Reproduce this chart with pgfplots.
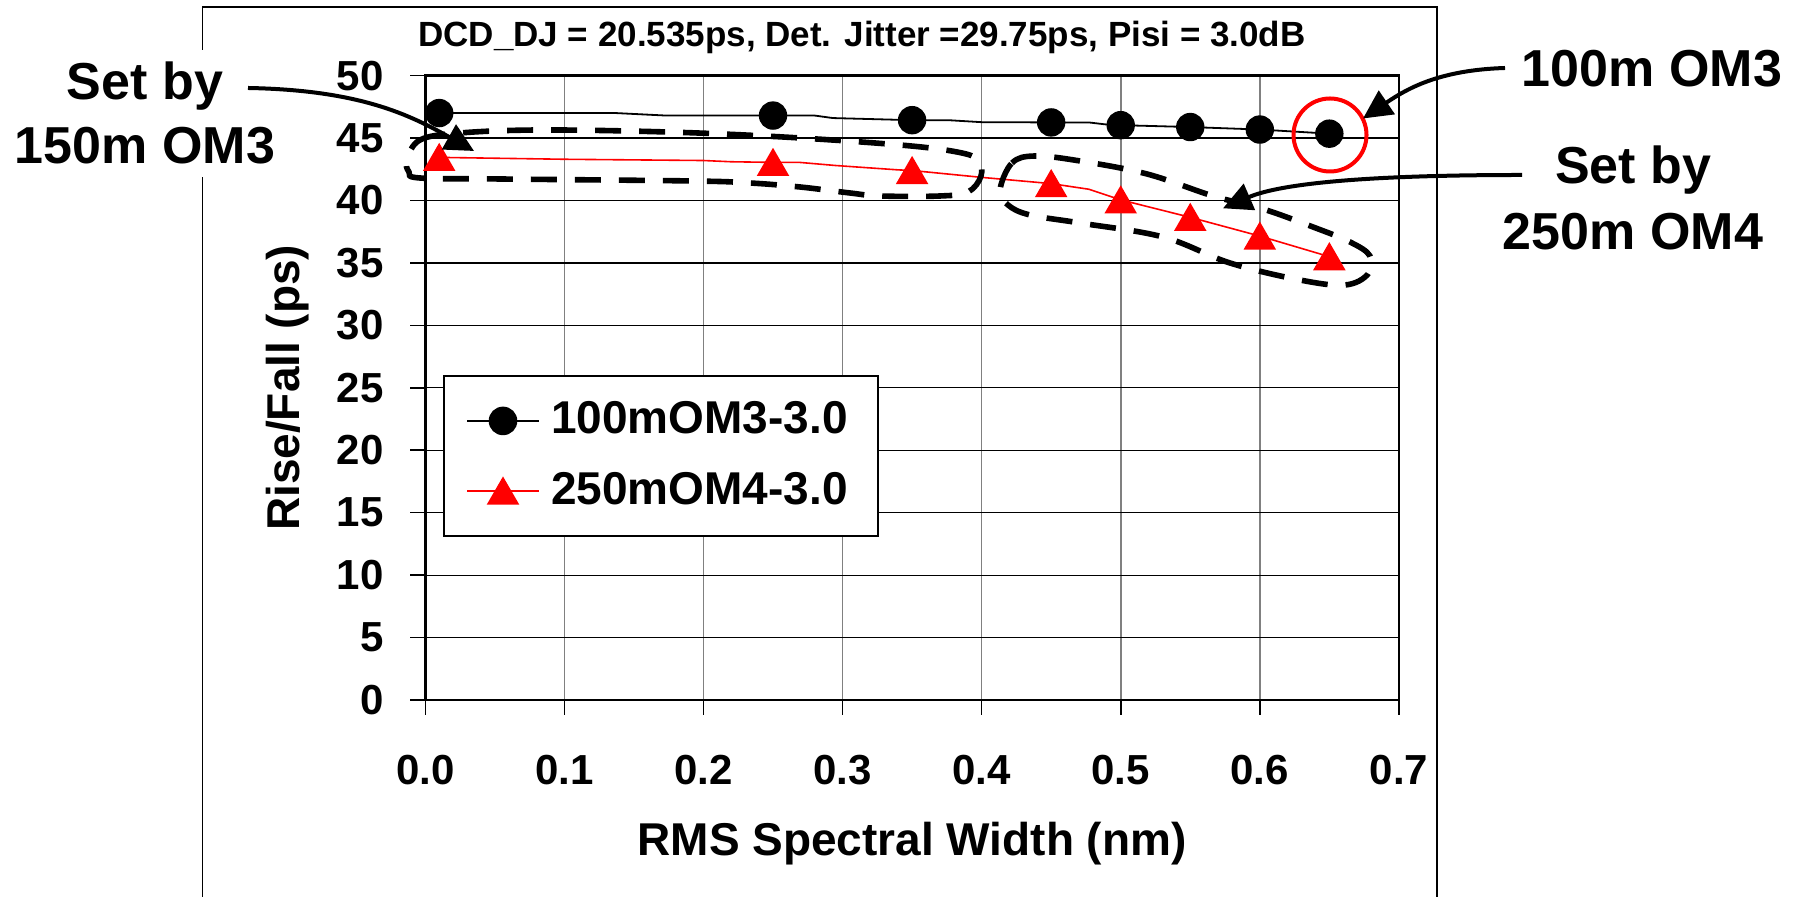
\documentclass[border=0pt]{standalone}
\usepackage{fontspec}
\setmainfont{Liberation Sans}
\usepackage{pgfplots}
\pgfplotsset{compat=1.18}
\usetikzlibrary{arrows.meta}

\begin{document}
\begin{tikzpicture}
\begin{axis}[
    at={(0,0)}, anchor=south west,
    scale only axis, width=243.4pt, height=156.1pt,
    xmin=0, xmax=0.7, ymin=0, ymax=50,
    xtick={0,0.1,0.2,0.3,0.4,0.5,0.6,0.7},
    ytick={0,5,10,15,20,25,30,35,40,45,50},
    /pgf/number format/assume math mode=true,
    tick label style={font=\fontsize{10.5}{12.6}\selectfont\bfseries},
    xticklabel style={/pgf/number format/fixed, /pgf/number format/fixed zerofill,
        /pgf/number format/precision=1, yshift=-6.5pt},
    yticklabel style={xshift=-3.2pt},
    tick pos=left, tick align=outside, major tick length=3.75pt,
    tick style={black, line width=0.4pt},
    grid=major,
    x grid style={gray, line width=0.4pt},
    y grid style={black, line width=0.3pt},
    axis line style={black, line width=0.6pt},
    xlabel={RMS Spectral Width (nm)},
    ylabel={Rise/Fall (ps)},
    label style={font=\fontsize{11.5}{13.8}\selectfont\bfseries},
    xlabel style={at={(axis description cs:0.5,-0.2306)}, anchor=center},
    ylabel style={at={(axis description cs:-0.141,0.5)}, anchor=center},
    clip=false,
    legend style={at={(0.0185,0.5204)}, anchor=north west,
        draw=black, line width=0.4pt, fill=white,
        font=\fontsize{11.5}{13.8}\selectfont\bfseries,
        inner xsep=5.5pt, inner ysep=4.5pt, row sep=4pt,
        /tikz/every odd column/.append style={column sep=0.8pt}},
    legend cell align=left,
    legend image code/.code={\draw[mark repeat=2, mark phase=2, #1]
        plot coordinates {(0pt,0pt) (9pt,0pt) (18pt,0pt)};},
]
% 100m OM3 curve (line) and its markers
\addplot[black, line width=0.45pt, forget plot] coordinates {
    (0.01,47.0) (0.137,47.0) (0.173,46.8) (0.25,46.8) (0.28,46.8) (0.293,46.6)
    (0.35,46.43) (0.376,46.43) (0.4,46.27) (0.45,46.25) (0.477,46.25) (0.49,46.08)
    (0.5,46.03) (0.55,45.88) (0.6,45.68) (0.65,45.35)
};
\addplot[only marks, mark=*, mark size=3.35pt, black, forget plot] coordinates {
    (0.01,47.0) (0.25,46.8) (0.35,46.43) (0.45,46.25) (0.5,46.03) (0.55,45.88)
    (0.6,45.68) (0.65,45.35)
};
% 250m OM4 curve (line) and its markers
\addplot[red, line width=0.4pt, forget plot] coordinates {
    (0.01,43.45) (0.1,43.3) (0.2,43.2) (0.22,43.1) (0.25,43.05) (0.269,43.05)
    (0.295,42.8) (0.34,42.45) (0.35,42.4) (0.4,41.85) (0.45,41.35) (0.477,40.9)
    (0.5,40.05) (0.55,38.65) (0.6,37.15) (0.65,35.5)
};
\addplot[only marks, mark=triangle*, mark size=4.3pt, red,
    mark options={fill=red, yshift=-1.05pt}, forget plot] coordinates {
    (0.01,43.45) (0.25,43.05) (0.35,42.4) (0.45,41.35) (0.5,40.05) (0.55,38.65)
    (0.6,37.15) (0.65,35.5)
};
\addlegendimage{black, line width=0.45pt, mark=*, mark size=3.35pt}
\addlegendentry{100mOM3-3.0}
\addlegendimage{red, line width=0.4pt, mark=triangle*, mark size=4.3pt,
    mark options={fill=red, yshift=-1.05pt}}
\addlegendentry{250mOM4-3.0}
\end{axis}

% annotations, in pixel units of the reference (origin at the axis corner)
\begin{scope}[x=0.25pt, y=-0.25pt]
\begin{scope}[shift={(-425.3,-700)}]
\draw[line width=0.4pt] (202.7,897) -- (202.7,7) -- (1437,7) -- (1437,897);

\node[anchor=base, font=\fontsize{8.75}{10.5}\selectfont\bfseries] at (862,47)
    {DCD\_DJ = 20.535ps, Det. Jitter =29.75ps, Pisi = 3.0dB};

% dashed outlines
\draw[line width=1.4pt, dash pattern=on 6.5pt off 4.5pt]
    plot[smooth cycle, tension=0.6] coordinates {
    (407,160) (420,140) (460,133) (540,130) (667,132) (783,137) (900,145)
    (957,152) (978,160) (981,176) (968,192) (940,196) (880,196) (850,193)
    (800,187) (750,183) (693,181) (500,179) (420,178) (409,172)};
\draw[line width=1.4pt, dash pattern=on 6.5pt off 4.5pt]
    plot[smooth cycle, tension=0.6] coordinates {
    (1000,190) (1012,163) (1035,156) (1080,161) (1147,174) (1213,196)
    (1263,209) (1313,227) (1350,242) (1370,256) (1368,274) (1345,285)
    (1300,280) (1230,263) (1163,237) (1080,223) (1030,215) (1008,205)};

\draw[red, line width=1pt] (1330,135) circle[radius=36.5];

\begin{scope}[font=\fontsize{13}{16}\selectfont\bfseries]
\node[anchor=base, fill=white, inner sep=3pt] at (145,100) {Set by};
\node[anchor=base, fill=white, inner sep=3pt] at (145,164) {150m OM3};
\node[anchor=base] at (1652,87) {100m OM3};
\node[anchor=base] at (1633,184) {Set by};
\node[anchor=base] at (1633,250) {250m OM4};
\end{scope}

\draw[line width=1pt, -{Triangle[length=7.2pt, width=7pt]}]
    (248,88) .. controls (360,90) and (410,115) .. (474,151);
\draw[line width=1pt, -{Triangle[length=7.2pt, width=7pt]}]
    (1505,68) .. controls (1440,70) and (1408,88) .. (1363,118.5);
\draw[line width=1pt, -{Triangle[length=7.2pt, width=7pt]}]
    (1522,175) .. controls (1330,175) and (1270,188) .. (1223,208.3);

\pgfresetboundingbox
\path (0,0) rectangle (1805,897);
\end{scope}
\end{scope}
\end{tikzpicture}
\end{document}
